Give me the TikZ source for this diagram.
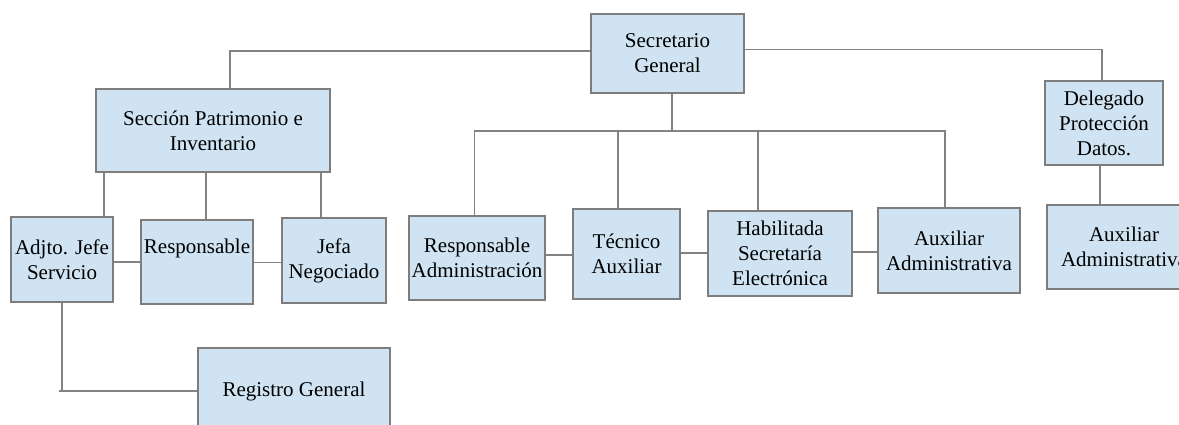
\documentclass[tikz,border=0pt]{standalone}
\usepackage{fontspec}
\setmainfont{Liberation Serif}
\definecolor{boxfill}{RGB}{207,227,242}
\definecolor{boxline}{RGB}{125,125,125}
\definecolor{conline}{RGB}{130,130,130}
\begin{document}
\begin{tikzpicture}[x=1pt,y=-1pt,
  box/.style={draw=boxline,fill=boxfill,line width=1.8pt,inner sep=0pt,align=center,
    font=\fontsize{21}{25}\selectfont},
  con/.style={draw=conline,line width=1.8pt}]
\useasboundingbox (0,0) rectangle (1179,425);
\clip (0,0) rectangle (1179,425);
% nodes
\node[box,minimum width=153pt,minimum height=79pt] (sg) at (667.5,53.5) {Secretario\\General};
\node[box,minimum width=234pt,minimum height=83pt] (sec) at (213,130.5) {Sección Patrimonio e\\Inventario};
\node[box,minimum width=118pt,minimum height=84pt] (del) at (1104,123) {Delegado\\Protección\\Datos.};
\node[box,minimum width=102pt,minimum height=85pt] (adj) at (62,259.5) {Adjto. Jefe\\Servicio};
\node[box,minimum width=112pt,minimum height=84pt] (resp) at (197,262) {Responsable\\\strut};
\node[box,minimum width=104pt,minimum height=85pt] (jefa) at (334,260.5) {Jefa\\Negociado};
\node[box,minimum width=136pt,minimum height=84pt] (radm) at (477,258) {Responsable\\Administración};
\node[box,minimum width=107pt,minimum height=90pt] (tec) at (626.5,254) {Técnico\\Auxiliar};
\node[box,minimum width=144pt,minimum height=85pt] (hab) at (780,253.5) {Habilitada\\Secretaría\\Electrónica};
\node[box,minimum width=142pt,minimum height=85pt] (aux) at (949,250.5) {Auxiliar\\Administrativa};
\node[box,minimum width=154pt,minimum height=84pt] (aux2) at (1124,247) {Auxiliar\\Administrativa};
\node[box,minimum width=192pt,minimum height=86pt] (reg) at (294,391) {Registro General};
\coordinate (bus) at (672,131);
% connectors from Secretario General
\draw[con] ([yshift=2.5pt]sg.west) -| ([xshift=17pt]sec.north);
\draw[con] ([yshift=4pt]sg.east) -| ([xshift=-2pt]del.north);
\draw[con] ([xshift=4.5pt]sg.south) -- (bus);
\draw[con] ([xshift=-2.5pt]radm.north) |- ([xshift=-4pt]aux.north |- bus) -- ([xshift=-4pt]aux.north);
\draw[con] ([xshift=-8.5pt]tec.north) -- ([xshift=-8.5pt]tec.north |- bus);
\draw[con] ([xshift=-22.4pt]hab.north) -- ([xshift=-22.4pt]hab.north |- bus);
% connectors from Sección
\draw[con] ([xshift=42pt]adj.north) -- ([xshift=42pt]adj.north |- sec.south);
\draw[con] ([xshift=9pt]resp.north) -- ([xshift=9pt]resp.north |- sec.south);
\draw[con] ([xshift=-13pt]jefa.north) -- ([xshift=-13pt]jefa.north |- sec.south);
% horizontal links
\draw[con] ([yshift=-2.5pt]adj.east) -- ([yshift=-2.5pt]adj.east -| resp.west);
\draw[con] ([yshift=-0.5pt]resp.east) -- ([yshift=-0.5pt]resp.east -| jefa.west);
\draw[con] ([yshift=3pt]radm.east) -- ([yshift=3pt]radm.east -| tec.west);
\draw[con] ([yshift=1pt]tec.east) -- ([yshift=1pt]tec.east -| hab.west);
\draw[con] ([yshift=1.5pt]hab.east) -- ([yshift=1.5pt]hab.east -| aux.west);
% Delegado to Auxiliar
\draw[con] ([xshift=-4pt]del.south) -- ([xshift=-4pt]del.south |- aux2.north);
% Adjto to Registro
\draw[con] (adj.south) -- (adj.south |- reg.west);
\draw[con] ([xshift=-3pt]adj.south |- reg.west) -- (reg.west);
\end{tikzpicture}
\end{document}
